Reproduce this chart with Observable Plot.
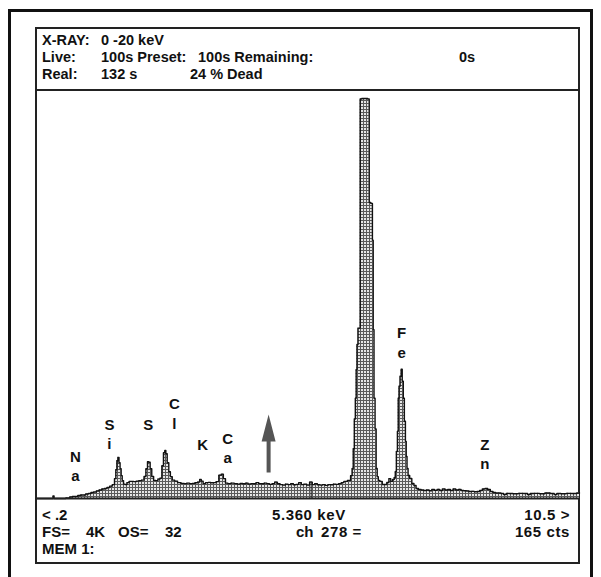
<!DOCTYPE html>
<html>
<head>
<meta charset="utf-8">
<script src="https://cdn.jsdelivr.net/npm/d3@7"></script>
<script src="https://cdn.jsdelivr.net/npm/@observablehq/plot@0.6"></script>
<style>
  html, body { margin: 0; padding: 0; background: #fff; }
  #page { position: relative; width: 601px; height: 577px; overflow: hidden; font-family: "Liberation Sans", Arial, sans-serif; font-weight: bold; font-size: 15px; color: #111; }
  .outer { position: absolute; left: 8px; top: 9px; width: 585px; height: 620px; border: 3px solid #111; box-sizing: border-box; }
  .inner { position: absolute; left: 35px; top: 27px; width: 545px; height: 537px; border: 2px solid #222; box-sizing: border-box; }
  .sep { position: absolute; left: 35px; width: 545px; height: 2px; background: #222; }
  .t { position: absolute; line-height: 16px; white-space: pre; }
  .h { font-size: 14.5px; }
  .num { letter-spacing: 0.6px; }
  #chart { position: absolute; left: 0; top: 91px; }
</style>
</head>
<body>
<div id="page">
  <div class="outer"></div>
  <div class="inner"></div>
  <div class="sep" style="top:89px"></div>

  <div class="t h" style="left:42px;top:32px">X-RAY:</div>
  <div class="t h" style="left:101px;top:32px">0 -20 keV</div>
  <div class="t h" style="left:42px;top:49px">Live:</div>
  <div class="t h" style="left:101px;top:49px">100s Preset:</div>
  <div class="t h" style="left:198px;top:49px">100s Remaining:</div>
  <div class="t h" style="left:459px;top:49px">0s</div>
  <div class="t h" style="left:42px;top:66px">Real:</div>
  <div class="t h" style="left:101px;top:66px">132 s</div>
  <div class="t h" style="left:190px;top:66px">24 % Dead</div>

  <div id="chart"></div>

  <div class="t" style="left:42px;top:507px">&lt; .2</div>
  <div class="t num" style="left:272px;top:507px">5.360 keV</div>
  <div class="t num" style="right:31px;top:507px">10.5 &gt;</div>
  <div class="t" style="left:42px;top:524px">FS=</div>
  <div class="t" style="left:86px;top:524px">4K</div>
  <div class="t" style="left:118px;top:524px">OS=</div>
  <div class="t" style="left:165px;top:524px">32</div>
  <div class="t" style="left:296px;top:524px">ch</div>
  <div class="t num" style="left:321px;top:524px">278 =</div>
  <div class="t num" style="right:31px;top:524px">165 cts</div>
  <div class="t" style="left:42px;top:541px">MEM 1:</div>
</div>
<script>
// Spectrum: energy (keV) and counts
const energy = [
  0.20,0.30,0.40,0.50,0.52,0.54,0.60,0.70,0.80,0.85,0.90,0.95,1.00,1.05,1.10,1.15,1.20,1.25,1.30,1.35,
  1.40,1.45,1.50,1.55,1.60,1.65,1.68,1.70,1.72,1.74,1.76,1.78,1.80,1.82,1.85,1.88,1.92,1.96,2.00,2.05,
  2.10,2.15,2.20,2.24,2.27,2.30,2.32,2.35,2.38,2.42,2.46,2.50,2.54,2.57,2.60,2.62,2.64,2.67,2.70,2.73,
  2.77,2.82,2.88,2.95,3.00,3.05,3.10,3.15,3.20,3.25,3.28,3.31,3.35,3.40,3.45,3.50,3.55,3.60,3.65,3.69,
  3.73,3.77,3.82,3.88,3.95,4.00,4.05,4.10,4.15,4.20,4.25,4.30,4.35,4.40,4.45,4.50,4.55,4.60,4.65,4.70,
  4.75,4.80,4.85,4.90,4.95,5.00,5.05,5.10,5.15,5.20,5.25,5.30,5.36,5.40,5.45,5.50,5.55,5.60,5.65,5.70,
  5.75,5.80,5.85,5.90,5.95,6.00,6.08,6.12,6.14,6.16,6.18,6.20,6.21,6.23,6.25,6.27,6.29,6.33,6.37,6.40,
  6.44,6.46,6.50,6.52,6.53,6.55,6.57,6.59,6.61,6.63,6.67,6.72,6.76,6.80,6.84,6.87,6.91,6.93,6.95,6.97,
  6.99,7.00,7.02,7.04,7.06,7.08,7.10,7.12,7.14,7.15,7.17,7.19,7.23,7.27,7.31,7.35,7.40,7.45,7.50,7.55,
  7.60,7.65,7.70,7.75,7.80,7.85,7.90,7.95,8.00,8.05,8.10,8.15,8.20,8.25,8.30,8.35,8.40,8.45,8.50,8.55,
  8.60,8.65,8.70,8.75,8.80,8.85,8.90,8.95,9.00,9.05,9.10,9.20,9.30,9.40,9.45,9.50,9.60,9.70,9.80,9.90,
  9.95,10.00,10.10,10.20,10.30,10.40
];
const counts = [
  0,0,0,0,25,0,0,0,5,15,20,20,30,35,35,45,50,60,65,75,
  85,95,100,110,125,140,200,290,380,414,360,300,230,180,145,140,160,172,172,170,
  175,180,185,222,300,370,365,300,222,182,180,195,205,330,460,484,450,360,270,220,
  185,175,160,152,150,155,150,152,158,165,192,175,150,160,162,158,160,170,235,245,
  200,155,150,155,150,145,152,148,155,145,150,148,160,150,148,155,150,142,150,165,
  148,140,135,145,140,150,138,142,160,140,145,135,165,140,150,138,135,140,132,140,
  138,145,142,150,160,172,182,230,303,500,800,1009,1300,1550,1715,1715,4020,4026,4026,4026,
  4020,2980,2970,2600,1700,1009,700,303,220,182,172,141,141,161,200,172,192,212,272,474,
  676,1009,1130,1231,1302,1180,1009,777,575,424,303,232,202,151,131,100,90,85,80,85,
  78,90,82,92,80,95,85,90,80,95,85,92,80,78,75,70,72,68,70,80,
  95,100,90,70,60,55,55,50,40,52,50,48,52,50,40,50,52,48,55,50,
  40,50,48,52,50,55
];
// Element labels
const elements = ["N\na", "S\ni", "S", "C\nl", "K", "C\na", "F\ne", "Z\nn"];
const labelEnergy = [0.93, 1.57, 2.30, 2.79, 3.32, 3.79, 7.06, 8.62];
const labelCounts = [510, 830, 830, 1040, 630, 690, 1750, 630];
// Cursor and arrow marker
const cursorEnergy = [5.36];
const cursorCounts = [165];
const arrowEnergy = [4.56];
const arrowBaseCounts = [262];

const spectrum = energy.map((e, i) => ({e, c: counts[i]}));
const labels = elements.map((t, i) => ({t, e: labelEnergy[i], c: labelCounts[i]}));
const cursor = cursorEnergy.map((e, i) => ({e, c: cursorCounts[i]}));
const arrow = arrowEnergy.map((e, i) => ({e, c: arrowBaseCounts[i]}));

const arrowShape = {
  draw(context, l) {
    const h = 27, hw = 7, sw = 2;
    context.moveTo(-sw, 0);
    context.lineTo(-sw, -l + h);
    context.lineTo(-hw, -l + h);
    context.lineTo(0, -l);
    context.lineTo(hw, -l + h);
    context.lineTo(sw, -l + h);
    context.lineTo(sw, 0);
    context.closePath();
  }
};

const svg = Plot.plot({
  width: 601,
  height: 409,
  marginLeft: 36,
  marginRight: 22,
  marginTop: 0,
  marginBottom: 2,
  style: {background: "transparent", fontFamily: "Liberation Sans, Arial, sans-serif"},
  x: {domain: [0.2, 10.4], axis: null},
  y: {domain: [0, 4096], axis: null},
  marks: [
    Plot.areaY(spectrum, {x: "e", y: "c", fill: "url(#hatch)", curve: "step"}),
    Plot.lineY(spectrum, {x: "e", y: "c", stroke: "#111", strokeWidth: 1.4, curve: "step"}),
    Plot.ruleX(cursor, {x: "e", y1: 0, y2: "c", stroke: "#222", strokeWidth: 1}),
    Plot.ruleY([0], {stroke: "#222", strokeWidth: 2}),
    Plot.text(labels, {x: "e", y: "c", text: "t", lineAnchor: "top", lineHeight: 1.3,
      fontSize: 15, fontWeight: "bold", fill: "#111"}),
    Plot.vector(arrow, {x: "e", y: "c", length: 58, rotate: 0, anchor: "start",
      shape: arrowShape, fill: "#555", stroke: "none"})
  ]
});

const defs = d3.select(svg).insert("defs", ":first-child");
const pat = defs.append("pattern").attr("id", "hatch").attr("patternUnits", "userSpaceOnUse")
  .attr("width", 3).attr("height", 3);
pat.append("rect").attr("width", 3).attr("height", 3).attr("fill", "#e6e6e6");
pat.append("path").attr("d", "M0,0.5H3M0.5,0V3").attr("stroke", "#5a5a5a").attr("stroke-width", 1);

document.getElementById("chart").appendChild(svg);
</script>
</body>
</html>
